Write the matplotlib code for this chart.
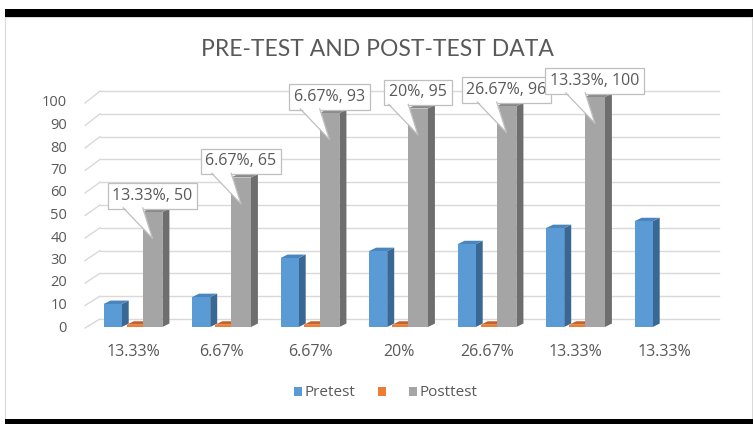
import matplotlib
matplotlib.use("Agg")
import matplotlib.pyplot as plt
from matplotlib.patches import Polygon, Rectangle

plt.rcParams['font.family'] = ['Open Sans', 'DejaVu Sans']

categories = ["13.33%", "6.67%", "6.67%", "20%", "26.67%", "13.33%", "13.33%"]
pretest = [10, 13, 30, 33, 36, 43, 46]
orange_series = [1, 1, 1, 1, 1, 1, None]
posttest = [50, 65, 93, 95, 96, 100, None]
y_ticks = [0, 10, 20, 30, 40, 50, 60, 70, 80, 90, 100]

W, H = 753, 424
TXT = '#595959'
GRID = '#D9D9D9'

fig = plt.figure(figsize=(W / 100, H / 100), dpi=100)
fig.patch.set_facecolor('white')

# frame and the black bands from the screenshot
def px_rect(x0, y0, x1, y1, z=5, **kw):
    fig.patches.append(Rectangle((x0 / W, 1 - y1 / H), (x1 - x0) / W, (y1 - y0) / H,
                                 transform=fig.transFigure, zorder=z, **kw))

px_rect(5, 17, 752, 419, z=-5, facecolor='white', edgecolor=GRID, lw=0.8)
px_rect(5, 9, 753, 17, facecolor='black', edgecolor='none')
px_rect(5, 419, 753, 424, facecolor='black', edgecolor='none')

# axes: x px = 133 + 88.5*i , y px = 327 - 2.3*v
ax = fig.add_axes([79.9 / W, (H - 338.5) / H, (743.65 - 79.9) / W, (338.5 - 69.4) / H])
ax.set_xlim(-0.6, 6.9)
ax.set_ylim(-5, 112)
ax.axis('off')

dx, dy = 0.079, 1.5

# back wall grid with short perspective stubs
for v in y_ticks:
    yb = 3.48 + 0.991 * v
    yf = (2.25 * v - 1) / 2.3
    ax.plot([-0.373, 6.62], [yb, yb], color=GRID, lw=1, zorder=1)
    ax.plot([-0.542, -0.373], [yf, yb], color=GRID, lw=1, zorder=1)
    ax.text(-0.746, yf, str(v), ha='right', va='center', fontsize=10.5, color=TXT,
            clip_on=False)


def bar3d(x, w, h, front, side, top, z):
    x0, x1 = x - w / 2, x + w / 2
    ax.add_patch(Polygon([(x1, 0), (x1 + dx, dy), (x1 + dx, h + dy), (x1, h)],
                         closed=True, facecolor=side, edgecolor='none', zorder=z))
    ax.add_patch(Polygon([(x0, h), (x0 + dx, h + dy), (x1 + dx, h + dy), (x1, h)],
                         closed=True, facecolor=top, edgecolor='none', zorder=z))
    ax.add_patch(Rectangle((x0, 0), w, h, facecolor=front, edgecolor='none', zorder=z))


for i in range(len(categories)):
    if pretest[i] is not None:
        bar3d(i - 0.23, 0.205, pretest[i], '#5B9BD5', '#3A6894', '#4A85BD', 2)
    if orange_series[i] is not None:
        bar3d(i + 0.02, 0.18, orange_series[i], '#ED7D31', '#B35B20', '#C4622A', 3)
    if posttest[i] is not None:
        bar3d(i + 0.22, 0.225, posttest[i], '#A5A5A5', '#6E6E6E', '#8A8A8A', 4)
    ax.text(i, -10.9, categories[i], ha='center', va='center', fontsize=11.5, color=TXT,
            clip_on=False)

# callout data labels on the posttest series
for i, (cat, v) in enumerate(zip(categories, posttest)):
    if v is None:
        continue
    xc, yc = i + 0.22, v + 7
    z = 10 + 3 * i
    ax.text(xc, yc, f"{cat}, {v}", ha='center', va='center', fontsize=11.5, color=TXT,
            zorder=z, clip_on=False,
            bbox=dict(boxstyle='square,pad=0.3', facecolor='white', edgecolor='#BFBFBF', lw=0.9))
    ybot = yc - 5.2
    tip = (xc, v - 11.5)
    bl, br = xc - 0.33, xc - 0.11
    ax.add_patch(Polygon([(bl, ybot + 0.7), tip, (br, ybot + 0.7)], closed=True,
                         facecolor='white', edgecolor='none', zorder=z + 1, clip_on=False))
    ax.plot([bl, tip[0], br], [ybot, tip[1], ybot], color='#BFBFBF', lw=0.9,
            zorder=z + 1, clip_on=False)

# title
fig.text(377 / W, 1 - 49 / H, "PRE-TEST AND POST-TEST DATA", ha='center', va='center',
         fontsize=16.5, color=TXT, family=['Lato', 'DejaVu Sans'])

# legend (orange entry has no name in the source)
legend_items = [("Pretest", '#5B9BD5', 294), ("", '#ED7D31', 378), ("Posttest", '#A5A5A5', 409)]
for name, col, x in legend_items:
    px_rect(x, 387, x + 8, 396, facecolor=col, edgecolor='none')
    if name:
        fig.text((x + 11) / W, 1 - 392 / H, name, ha='left', va='center', fontsize=11, color=TXT)

fig.savefig("out.png", dpi=100)
